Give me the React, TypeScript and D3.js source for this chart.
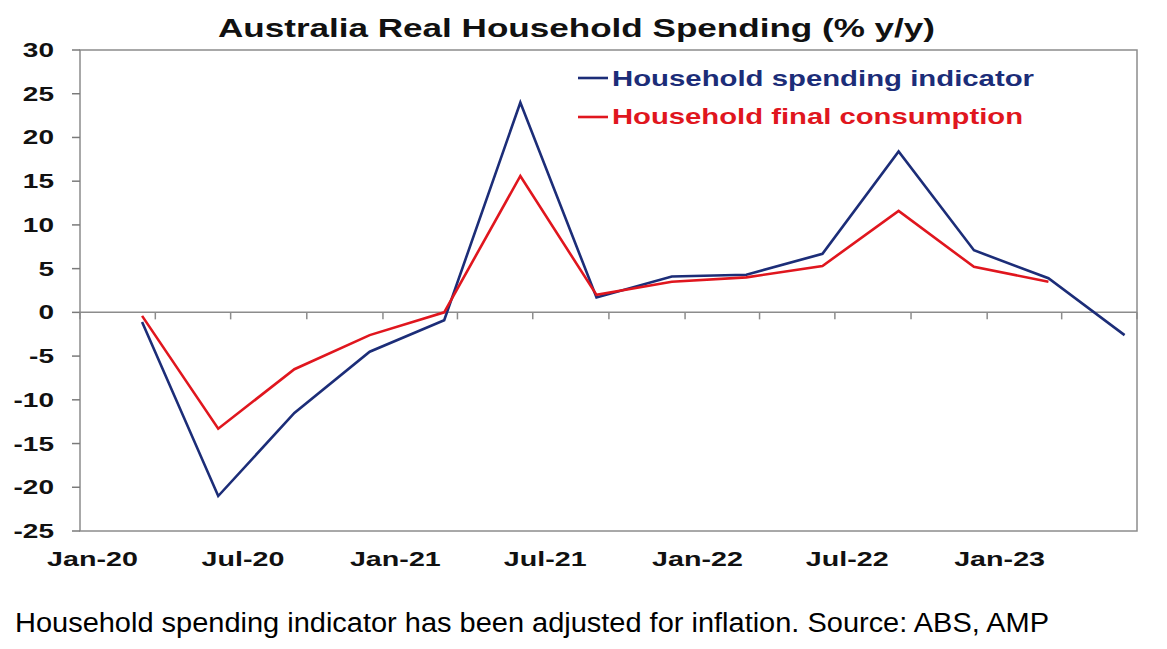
import React from "react";
import * as d3 from "d3";

const quarters: string[] = [
  "2020-03", "2020-06", "2020-09", "2020-12",
  "2021-03", "2021-06", "2021-09", "2021-12",
  "2022-03", "2022-06", "2022-09", "2022-12",
  "2023-03", "2023-06",
];
const spendingIndicator: (number | null)[] = [
  -1.1, -21.0, -11.5, -4.5, -0.9, 24.0, 1.7, 4.1, 4.3, 6.7, 18.4, 7.1, 3.9, -2.6,
];
const finalConsumption: (number | null)[] = [
  -0.4, -13.3, -6.5, -2.6, 0.0, 15.6, 2.0, 3.5, 4.0, 5.3, 11.6, 5.2, 3.5, null,
];
const yTicks: number[] = [30, 25, 20, 15, 10, 5, 0, -5, -10, -15, -20, -25];
const xTickLabels: string[] = ["Jan-20", "Jul-20", "Jan-21", "Jul-21", "Jan-22", "Jul-22", "Jan-23"];
const seriesNames: string[] = ["Household spending indicator", "Household final consumption"];

const W = 1167;
const H = 649;
const M = { left: 80, right: 1137, top: 50, bottom: 531 };
const BLUE = "#1c2d78";
const RED = "#e0161e";
const FONT = "'Liberation Sans', Arial, sans-serif";
const SX = 1.4;

const midMonth = (ym: string) => {
  const [y, m] = ym.split("-").map(Number);
  return new Date(y, m - 1, 16);
};
const parseLabel = (s: string) => {
  const mon = s.slice(0, 3) === "Jan" ? 0 : 6;
  return new Date(2000 + Number(s.slice(4)), mon, 16);
};

type STextProps = {
  x: number;
  y: number;
  sx?: number;
  anchor?: "start" | "middle" | "end";
  size: number;
  bold?: boolean;
  fill: string;
  children: React.ReactNode;
};
function SText({ x, y, sx = SX, anchor = "start", size, bold = true, fill, children }: STextProps) {
  return (
    <text
      transform={`translate(${x},${y}) scale(${sx},1)`}
      textAnchor={anchor}
      fontSize={size}
      fontWeight={bold ? "bold" : "normal"}
      fill={fill}
    >
      {children}
    </text>
  );
}

export default function App() {
  const x = d3
    .scaleTime()
    .domain([new Date(2020, 0, 1), new Date(2023, 6, 1)])
    .range([M.left, M.right]);
  const y = d3.scaleLinear().domain([-25, 30]).range([M.bottom, M.top]);

  const quarterTicks = d3.timeMonth.every(3)!.range(new Date(2020, 0, 1), new Date(2023, 6, 2));

  const line = d3
    .line<[Date, number | null]>()
    .defined((d) => d[1] !== null)
    .x((d) => x(d[0]))
    .y((d) => y(d[1] as number));

  const blueData = quarters.map((q, i) => [midMonth(q), spendingIndicator[i]] as [Date, number | null]);
  const redData = quarters.map((q, i) => [midMonth(q), finalConsumption[i]] as [Date, number | null]);

  return (
    <svg
      width={W}
      height={H}
      style={{ position: "absolute", left: 0, top: 0, background: "#fff" }}
      fontFamily={FONT}
    >
      <rect x={0} y={0} width={W} height={H} fill="#fff" />
      <text
        x={218}
        y={37}
        fontSize={25.5}
        fontWeight="bold"
        fill="#111"
        textLength={717}
        lengthAdjust="spacingAndGlyphs"
      >
        Australia Real Household Spending (% y/y)
      </text>

      {/* plot frame */}
      <rect
        x={M.left}
        y={M.top}
        width={M.right - M.left}
        height={M.bottom - M.top}
        fill="none"
        stroke="#8c8c8c"
        strokeWidth={1.5}
      />

      {/* y axis ticks & labels */}
      {yTicks.map((t) => (
        <g key={t}>
          <line x1={M.left - 8} x2={M.left} y1={y(t)} y2={y(t)} stroke="#7a7a7a" strokeWidth={1.5} />
          <SText x={54} y={y(t) + 7} anchor="end" size={20} fill="#111">
            {t}
          </SText>
        </g>
      ))}

      {/* zero line with quarterly ticks */}
      <line x1={M.left} x2={M.right} y1={y(0)} y2={y(0)} stroke="#8c8c8c" strokeWidth={1.5} />
      {quarterTicks.map((d, i) => (
        <line
          key={i}
          x1={x(d)}
          x2={x(d)}
          y1={y(0)}
          y2={y(0) + 7}
          stroke="#8c8c8c"
          strokeWidth={1.5}
        />
      ))}

      {/* x labels */}
      {xTickLabels.map((s) => (
        <SText key={s} x={x(parseLabel(s))} y={566} anchor="middle" size={20.5} fill="#111">
          {s}
        </SText>
      ))}

      {/* series */}
      <path d={line(blueData) || ""} fill="none" stroke={BLUE} strokeWidth={2.6} strokeLinejoin="miter" />
      <path d={line(redData) || ""} fill="none" stroke={RED} strokeWidth={2.6} strokeLinejoin="miter" />

      {/* legend */}
      <line x1={578} x2={608} y1={78} y2={78} stroke={BLUE} strokeWidth={2.6} />
      <text
        x={612}
        y={86}
        fontSize={22}
        fontWeight="bold"
        fill={BLUE}
        textLength={422}
        lengthAdjust="spacingAndGlyphs"
      >
        {seriesNames[0]}
      </text>
      <line x1={578} x2={608} y1={117} y2={117} stroke={RED} strokeWidth={2.6} />
      <text
        x={612}
        y={124}
        fontSize={22}
        fontWeight="bold"
        fill={RED}
        textLength={411}
        lengthAdjust="spacingAndGlyphs"
      >
        {seriesNames[1]}
      </text>

      {/* footnote */}
      <text
        x={15}
        y={632}
        fontSize={27}
        fill="#000"
        textLength={1034}
        lengthAdjust="spacingAndGlyphs"
      >
        Household spending indicator has been adjusted for inflation. Source: ABS, AMP
      </text>
    </svg>
  );
}
